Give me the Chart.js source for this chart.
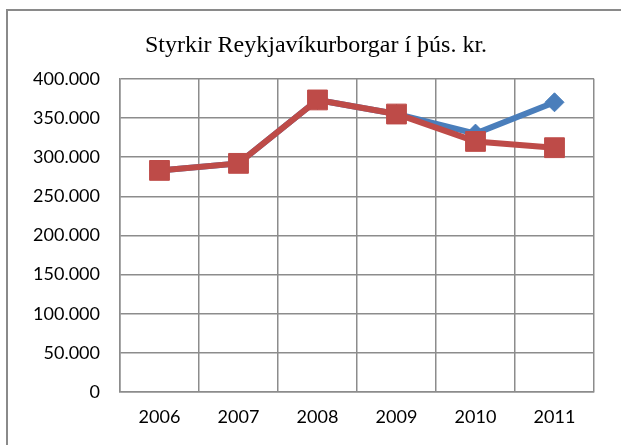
<!DOCTYPE html>
<html>
<head>
<meta charset="utf-8">
<script src="https://cdn.jsdelivr.net/npm/chart.js@4/dist/chart.umd.min.js"></script>
<style>
  html, body { margin: 0; padding: 0; background: #fff; overflow: hidden; }
  #wrap { position: relative; width: 621px; height: 445px; }
  #frame {
    position: absolute; left: 6px; top: 9px; width: 700px; height: 500px;
    border-left: 2px solid #8a8a8a; border-top: 2px solid #8a8a8a;
    pointer-events: none;
  }
  canvas { position: absolute; left: 0; top: 0; }
</style>
</head>
<body>
<div id="wrap">
  <canvas id="chart" width="621" height="445"></canvas>
  <div id="frame"></div>
</div>
<script>
// Styrkir Reykjavíkurborgar - two series, red drawn over blue

const years = ['2006', '2007', '2008', '2009', '2010', '2011']
const seriesBlue = [283000, 292000, 373000, 355000, 330000, 370000]
const seriesRed = [283000, 292000, 373000, 355000, 320000, 312000]

const BLUE = '#4a7ebb'
const RED = '#be4b48'
const GRID = '#8c8c8c'

function fmtThousands(v) {
  return String(v).replace(/\B(?=(\d{3})+(?!\d))/g, '.')
}

const tickFont = { family: 'Lato', size: 18 }

new Chart(document.getElementById('chart'), {
  type: 'line',
  data: {
    labels: years,
    datasets: [
      {
        label: 'Series1',
        data: seriesBlue,
        borderColor: BLUE,
        backgroundColor: BLUE,
        borderWidth: 6,
        pointStyle: 'rectRot',
        pointRadius: 9.5,
        pointBorderWidth: 1,
        tension: 0,
        order: 1,
      },
      {
        label: 'Series2',
        data: seriesRed,
        borderColor: RED,
        backgroundColor: RED,
        borderWidth: 6,
        pointStyle: 'rect',
        pointRadius: 14,
        pointBorderWidth: 1,
        tension: 0,
        order: 0,
      }
    ]
  },
  options: {
    responsive: false,
    animation: false,
    devicePixelRatio: 1,
    layout: { padding: { left: 11, right: 0, top: 0, bottom: 0 } },
    scales: {
      x: {
        offset: true,
        grid: { color: GRID, lineWidth: 1.5, drawTicks: false, offset: true },
        border: { color: GRID, width: 1.5 },
        ticks: { color: '#000', font: tickFont, padding: 14 },
        afterFit: (s) => { s.height = 53 }
      },
      y: {
        min: 0,
        max: 400000,
        grid: { color: GRID, lineWidth: 1.5, drawTicks: false },
        border: { color: GRID, width: 1.5 },
        ticks: {
          color: '#000',
          font: tickFont,
          padding: 20,
          stepSize: 50000,
          callback: (v) => fmtThousands(v)
        },
        afterFit: (s) => { s.width = 109 }
      },
      // empty right-hand box, only keeps the plot clear of the right edge
      spacer: {
        position: 'right',
        grid: { display: false },
        border: { display: false },
        ticks: { display: false },
        afterFit: (s) => { s.width = 27 }
      }
    },
    plugins: {
      legend: { display: false },
      tooltip: { enabled: false },
      title: {
        display: true,
        text: 'Styrkir Reykjavíkurborgar í þús. kr.',
        color: '#000',
        font: { family: 'Liberation Serif', size: 24, weight: 'normal' },
        padding: { top: 31, bottom: 19 }
      }
    }
  }
})
</script>
</body>
</html>
